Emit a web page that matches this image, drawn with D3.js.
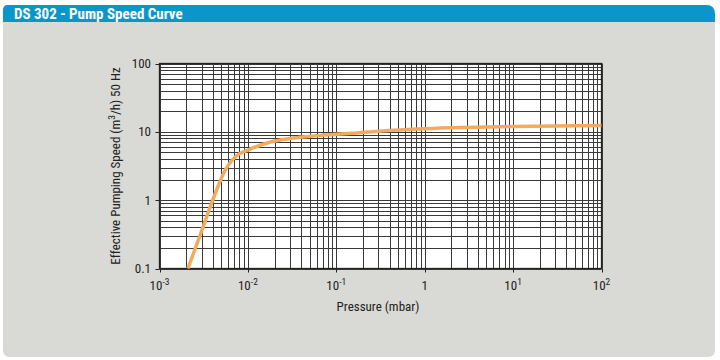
<!DOCTYPE html>
<html><head><meta charset="utf-8">
<script src="https://cdn.jsdelivr.net/npm/d3@7"></script>
<style>body{margin:0;background:#fff}</style>
</head><body>
<script>
const titleText = "DS 302 - Pump Speed Curve";
const xTitle = "Pressure (mbar)";
const pressure = [0.0021, 0.0031, 0.004, 0.0055, 0.0075, 0.01, 0.018, 0.03, 0.045, 0.1, 0.15, 0.3, 1, 3, 10, 30, 100];
const speed    = [0.1,    0.4,    1.0,   2.7,    4.5,    5.4,  7.1,   8.0,  8.5,   9.2, 9.5,  10.2, 11.1, 11.6, 12.0, 12.2, 12.4];
const xMajor = [-3, -2, -1, 0, 1, 2];
const yMajor = [0.1, 1, 10, 100];
const yLabels = ["0.1", "1", "10", "100"];

(function () {
const W = 720, H = 360;
const svg = d3.select("body").append("svg").attr("width", W).attr("height", H);
const font = "'Liberation Sans Narrow', 'Roboto Condensed', 'Liberation Sans', sans-serif";

const px0 = 3, px1 = 715, py0 = 5, py1 = 357;
function roundedPath(x0, y0, x1, y1, rtl, rtr, rbr, rbl) {
  return `M${x0+rtl},${y0} H${x1-rtr} Q${x1},${y0} ${x1},${y0+rtr} V${y1-rbr} Q${x1},${y1} ${x1-rbr},${y1} H${x0+rbl} Q${x0},${y1} ${x0},${y1-rbl} V${y0+rtl} Q${x0},${y0} ${x0+rtl},${y0} Z`;
}
svg.append("path").attr("d", roundedPath(px0, py0, px1, py1, 5, 9, 7, 7)).attr("fill", "#d9dad5");
svg.append("path").attr("d", roundedPath(px0, py0, px1, 22, 5, 9, 0, 0)).attr("fill", "#0a96cb");
svg.append("text").attr("x", 14).attr("y", 18.5).attr("fill", "#fff")
  .attr("font-family", font).attr("font-weight", "bold").attr("font-size", 15).text(titleText);

const pl = 159.5, pr = 601.5, pt = 63.5, pb = 268.5;
const x = d3.scaleLog().domain([1e-3, 1e2]).range([pl, pr]);
const y = d3.scaleLog().domain([0.1, 100]).range([pb, pt]);

svg.append("rect").attr("x", pl).attr("y", pt).attr("width", pr-pl).attr("height", pb-pt).attr("fill", "#fff");

const g = svg.append("g");
const xt = x.ticks(50), yt = y.ticks(50);
g.selectAll("line.vx").data(xt).join("line")
  .attr("x1", d => Math.round(x(d))+0.5).attr("x2", d => Math.round(x(d))+0.5)
  .attr("y1", pt).attr("y2", pb).attr("stroke", "#3a3a3a").attr("stroke-width", 1);
g.selectAll("line.hy").data(yt).join("line")
  .attr("y1", d => Math.round(y(d))+0.5).attr("y2", d => Math.round(y(d))+0.5)
  .attr("x1", pl).attr("x2", pr).attr("stroke", "#3a3a3a").attr("stroke-width", 1);
g.append("rect").attr("x", pl).attr("y", pt).attr("width", pr-pl).attr("height", pb-pt)
  .attr("fill", "none").attr("stroke", "#222").attr("stroke-width", 1.3);

g.selectAll("line.xt").data(xMajor).join("line")
  .attr("x1", d => Math.round(x(Math.pow(10, d)))+0.5).attr("x2", d => Math.round(x(Math.pow(10, d)))+0.5)
  .attr("y1", pb).attr("y2", pb+4).attr("stroke", "#222");
g.selectAll("line.yt").data(yMajor).join("line")
  .attr("y1", d => Math.round(y(d))+0.5).attr("y2", d => Math.round(y(d))+0.5)
  .attr("x1", pl-4).attr("x2", pl).attr("stroke", "#222");

g.selectAll("text.yl").data(yMajor).join("text")
  .attr("x", 151).attr("y", d => y(d)+4.5).attr("text-anchor", "end")
  .attr("font-family", font).attr("font-size", 13).attr("fill", "#222")
  .text((d, i) => yLabels[i]);

xMajor.forEach(e => {
  const t = g.append("text").attr("x", x(Math.pow(10, e))).attr("y", 290)
    .attr("text-anchor", "middle").attr("font-family", font).attr("font-size", 13).attr("fill", "#222");
  if (e === 0) { t.text("1"); }
  else {
    t.append("tspan").text("10");
    t.append("tspan").attr("dy", -5).attr("font-size", 9.5).text(String(e));
  }
});

svg.append("text").attr("x", 378).attr("y", 311).attr("text-anchor", "middle")
  .attr("font-family", font).attr("font-size", 13).attr("fill", "#222").text(xTitle);

const yt2 = svg.append("text").attr("transform", `translate(120,${(pt+pb)/2}) rotate(-90)`)
  .attr("text-anchor", "middle").attr("font-family", font).attr("font-size", 13).attr("fill", "#222");
yt2.append("tspan").text("Effective Pumping Speed (m");
yt2.append("tspan").attr("dy", -5).attr("font-size", 9.5).text("3");
yt2.append("tspan").attr("dy", 5).text("/h) 50 Hz");

const data = pressure.map((p, i) => [p, speed[i]]);
svg.append("path").datum(data)
  .attr("d", d3.line().x(d => x(d[0])).y(d => y(d[1])).curve(d3.curveMonotoneX))
  .attr("fill", "none").attr("stroke", "#f2aa5e").attr("stroke-width", 3.5).attr("stroke-linecap", "butt");
})();
</script>
</body></html>
